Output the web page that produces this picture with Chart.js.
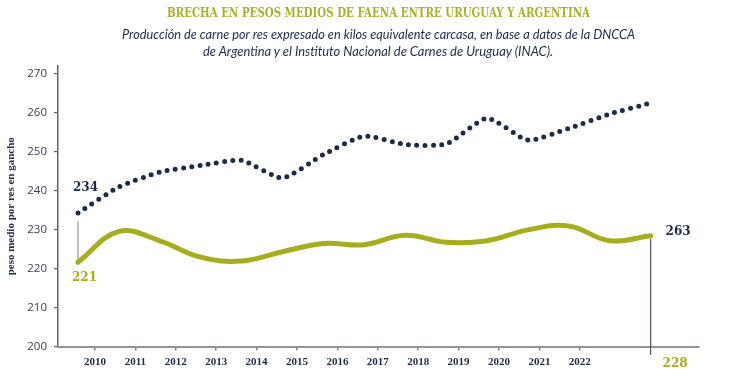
<!DOCTYPE html>
<html>
<head>
<meta charset="utf-8">
<script src="https://cdn.jsdelivr.net/npm/chart.js@4.4.1/dist/chart.umd.min.js"></script>
<style>
html,body{margin:0;padding:0;background:#fff;}
#wrap{position:relative;width:730px;height:379px;overflow:hidden;background:#fff;}
#c{position:absolute;left:0;top:0;}
.t{position:absolute;white-space:nowrap;transform-origin:0 0;line-height:1;}
#title{font-family:"DejaVu Serif";font-weight:bold;font-size:12.5px;color:#a9b12b;}
.sub{font-family:Lato,"Open Sans",sans-serif;font-style:italic;font-size:13.5px;color:#1d2b48;}
</style>
</head>
<body>
<div id="wrap">
<canvas id="c" width="730" height="379"></canvas>
<span class="t" id="title" data-w="423" data-cx="378" data-cy="13">BRECHA EN PESOS MEDIOS DE FAENA ENTRE URUGUAY Y ARGENTINA</span>
<span class="t sub" id="sub1" data-w="513" data-cx="378" data-cy="35">Producción de carne por res expresado en kilos equivalente carcasa, en base a datos de la DNCCA</span>
<span class="t sub" id="sub2" data-w="350" data-cx="378" data-cy="52">de Argentina y el Instituto Nacional de Carnes de Uruguay (INAC).</span>
</div>
<script>
// ---- data ----
const years = [2009, 2010, 2011, 2012, 2013, 2014, 2015, 2016, 2017, 2018, 2019, 2020, 2021, 2022, 2023];
const uruguay = [234.2, 240.9, 244.7, 246.4, 247.7, 243.2, 249.2, 253.9, 251.8, 251.9, 258.5, 252.9, 255.9, 259.6, 262.4];
const argentina = [221.6, 229.5, 227.1, 222.9, 221.9, 224.3, 226.4, 226.1, 228.5, 226.7, 227.1, 229.9, 230.9, 227.1, 228.4];
const xTickYears = [2010, 2011, 2012, 2013, 2014, 2015, 2016, 2017, 2018, 2019, 2020, 2021, 2022];
const yTicks = [200, 210, 220, 230, 240, 250, 260, 270];
const startLabels = ['234', '221'];
const endLabels = ['263', '228'];
const yTitle = 'peso medio por res en gancho';

const NAVY = '#1d2b48';
const OLIVE = '#a6ae1e';

// position titles
document.querySelectorAll('.t').forEach(el => {
  const w = el.getBoundingClientRect().width;
  const h = el.getBoundingClientRect().height;
  const s = (+el.dataset.w) / w;
  el.style.transform = 'scaleX(' + s + ')';
  el.style.left = (+el.dataset.cx - (+el.dataset.w) / 2) + 'px';
  el.style.top = (+el.dataset.cy - h / 2) + 'px';
});

const annot = {
  id: 'annot',
  beforeDatasetsDraw(chart) {
    const {ctx, chartArea} = chart;
    const xs = chart.scales.x, ys = chart.scales.y;
    const x0 = xs.getPixelForValue(years[0]);
    const xN = xs.getPixelForValue(years[years.length - 1]);
    ctx.save();
    ctx.strokeStyle = '#8d9497'; ctx.lineWidth = 2;
    ctx.beginPath(); ctx.moveTo(chartArea.left - 3, chartArea.bottom); ctx.lineTo(chartArea.left, chartArea.bottom); ctx.stroke();
    ctx.strokeStyle = '#9b9b9b'; ctx.lineWidth = 1.2;
    ctx.beginPath();
    ctx.moveTo(x0, ys.getPixelForValue(uruguay[0]) + 8);
    ctx.lineTo(x0, ys.getPixelForValue(argentina[0]));
    ctx.stroke();
    ctx.strokeStyle = '#4f5866'; ctx.lineWidth = 1.2;
    ctx.beginPath();
    ctx.moveTo(xN, ys.getPixelForValue(argentina[argentina.length - 1]) + 3);
    ctx.lineTo(xN, chartArea.bottom + 8.5);
    ctx.stroke();
    ctx.restore();
  },
  afterDatasetsDraw(chart) {
    const {ctx, chartArea} = chart;
    const xs = chart.scales.x, ys = chart.scales.y;
    const x0 = xs.getPixelForValue(years[0]);
    const xN = xs.getPixelForValue(years[years.length - 1]);
    ctx.save();
    ctx.font = 'bold 12px "DejaVu Serif"';
    ctx.textBaseline = 'middle';
    ctx.textAlign = 'left';
    ctx.fillStyle = NAVY;
    ctx.fillText(startLabels[0], x0 - 5, ys.getPixelForValue(uruguay[0]) - 25);
    ctx.fillStyle = OLIVE;
    ctx.fillText(startLabels[1], x0 - 6, ys.getPixelForValue(argentina[0]) + 16);
    ctx.fillStyle = NAVY;
    ctx.fillText(endLabels[0], xN + 15, ys.getPixelForValue(argentina[argentina.length - 1]) - 4);
    ctx.fillStyle = OLIVE;
    ctx.fillText(endLabels[1], xN + 12, chartArea.bottom + 17.5);
    ctx.restore();
  }
};

new Chart(document.getElementById('c'), {
  type: 'line',
  data: {
    datasets: [
      {
        label: 'Uruguay',
        data: years.map((y, i) => ({x: y, y: uruguay[i]})),
        borderColor: NAVY,
        borderWidth: 5,
        borderDash: [0, 8.3],
        borderCapStyle: 'round',
        tension: 0.2,
        pointRadius: 0,
        fill: false
      },
      {
        label: 'Argentina',
        data: years.map((y, i) => ({x: y, y: argentina[i]})),
        borderColor: OLIVE,
        borderWidth: 5,
        borderCapStyle: 'round',
        tension: 0.4,
        pointRadius: 0,
        fill: false
      }
    ]
  },
  options: {
    responsive: false,
    animation: false,
    devicePixelRatio: 1,
    layout: {padding: {left: 0, top: 66, right: 31, bottom: 0}},
    plugins: {legend: {display: false}, tooltip: {enabled: false}, title: {display: false}},
    scales: {
      x: {
        type: 'linear', display: false,
        min: 2008.511, max: 2024.183
      },
      xt: {
        type: 'linear', position: 'bottom',
        min: 2009.084, max: 2024.95,
        afterBuildTicks: s => { s.ticks = xTickYears.map(v => ({value: v})); },
        afterFit: s => { s.height = 32.5; },
        border: {display: true, color: '#8d9497', width: 2},
        grid: {drawOnChartArea: false, drawTicks: true, tickLength: 4, color: '#7b8288', lineWidth: 1.5},
        ticks: {
          padding: 5,
          color: NAVY,
          font: {family: '"Liberation Serif"', weight: 'bold', size: 11},
          callback: v => String(v),
          maxRotation: 0, autoSkip: false
        }
      },
      y: {
        min: 200, max: 271.9,
        afterBuildTicks: s => { s.ticks = yTicks.map(v => ({value: v})); },
        afterFit: s => { s.width = 58; },
        border: {display: true, color: '#5d6675', width: 1.5},
        grid: {drawOnChartArea: false, drawTicks: true, tickLength: 4, color: '#5d6675', lineWidth: 1.2},
        ticks: {
          padding: 7,
          color: '#3b4150',
          font: {family: '"Open Sans"', size: 11.5}
        },
        title: {
          display: true,
          text: yTitle,
          color: NAVY,
          font: {family: '"Liberation Serif"', weight: 'bold', size: 11},
          padding: {top: 5, bottom: 0}
        }
      }
    }
  },
  plugins: [annot]
});
</script>
</body>
</html>
